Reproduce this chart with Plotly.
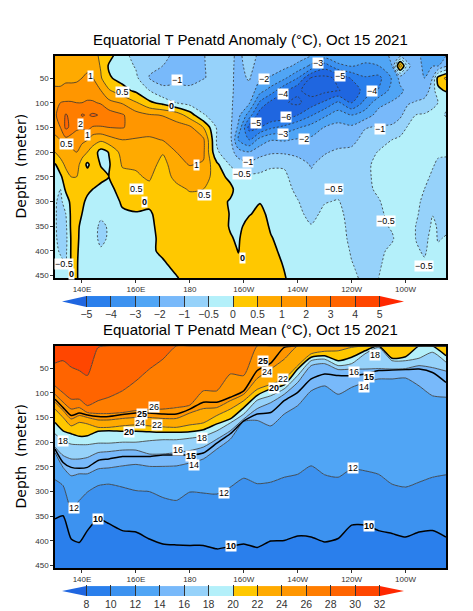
import numpy as np
import plotly.graph_objects as go

FONT = "Liberation Sans"

# ---- anomaly panel, values (one list per longitude)
anom_depths = [5, 25, 50, 75, 100, 125, 150, 175, 200, 225, 250, 275, 300, 325, 350, 375, 400, 425, 455]
anom_lons = [130, 132, 134, 136, 138, 140, 142, 144, 147, 150, 155, 160, 165, 170, 175, 180, 185, 190, 195,
             198, 202, 206, 210, 215, 220, 225, 230, 235, 240, 245, 250, 255, 258, 261, 264, 267, 270, 272, 275]
anom_by_lon = [
    [.8, .8, .9, 1.1, 1.7, 1.9, 1.3, .9, .5, -.05, -.3, -.4, -.45, -.45, -.45, -.45, -.4, -.3, -.2],
    [.8, .8, .9, 1.1, 2.0, 2.3, 2.0, 1.0, .7, .3, -.1, -.5, -.6, -.65, -.65, -.6, -.55, -.4, -.2],
    [.8, .8, .95, 1.15, 2.1, 3.1, 3.2, 1.7, .8, .6, .3, .1, -.3, -.5, -.6, -.65, -.6, -.5, -.2],
    [.85, .85, .95, 1.15, 2.1, 2.7, 2.8, 1.4, .9, .7, .5, .3, .15, .1, .1, .05, .05, .05, .05],
    [.85, .85, .95, 1.2, 2.0, 2.2, 2.2, 1.4, 1.0, .7, .5, .4, .3, .2, .1, .1, .08, .05, .05],
    [.85, .85, 1.0, 1.4, 2.0, 3.1, 2.1, 1.3, .7, .3, .3, .2, .1, .0, -.1, -.15, -.2, -.2, -.2],
    [.85, .9, 1.15, 1.6, 2.1, 2.9, 2.3, 1.05, .5, -.1, .25, .1, -.1, -.2, -.25, -.3, -.3, -.3, -.25],
    [.7, .85, 1.05, 1.5, 2.1, 3.15, 1.9, .7, .3, .2, .15, .0, -.1, -.2, -.3, -.35, -.3, -.25, -.2],
    [.4, .45, .55, 1.0, 1.9, 2.9, 1.9, .6, -.2, -.02, .1, -.1, -.25, -.4, -.6, -.6, -.45, -.3, -.2],
    [.15, -.05, .05, .55, 1.3, 2.5, 2.0, .8, .02, -.05, .0, -.1, -.2, -.3, -.45, -.45, -.35, -.25, -.2],
    [-.3, -.25, -.15, .15, .95, 2.1, 2.05, 1.0, .7, .55, .35, .15, .05, -.05, -.1, -.15, -.2, -.2, -.2],
    [-.7, -.55, -.4, -.1, .55, 1.4, 1.7, .95, .85, .55, .45, .3, .1, -.02, -.1, -.15, -.2, -.2, -.2],
    [-.85, -.95, -1.03, -.5, .1, 1.1, 1.6, .9, .85, .75, .55, .4, .05, -.03, -.05, -.05, -.05, -.05, -.15],
    [-.9, -1.0, -1.15, -.95, -.15, .98, 1.5, 1.05, .55, .3, .25, .2, .15, .1, .08, .05, .05, -.03, -.1],
    [-1.2, -1.2, -1.2, -.9, -.5, .8, 1.35, 1.2, 1.0, .85, .65, .35, .25, .2, .18, .15, .1, .08, -.02],
    [-1.2, -1.25, -1.15, -.95, -.7, .25, 1.2, 1.3, 1.25, 1.05, .75, .55, .3, .25, .2, .18, .15, .12, .1],
    [-1.05, -1.05, -1.02, -.9, -.85, -.45, .5, 1.2, 1.2, .95, .75, .5, .4, .35, .3, .28, .25, .22, .2],
    [-.8, -.85, -.95, -.95, -.9, -.75, -.55, -.55, -.45, .1, .25, .25, .2, .2, .2, .15, .2, .2, .2],
    [-.9, -.9, -.9, -.88, -.9, -.9, -.9, -.85, -.75, -.55, -.15, .15, -.05, -.02, -.03, .03, .2, .3, .35],
    [-1.2, -1.25, -1.3, -1.4, -1.5, -1.7, -2.2, -3.1, -1.6, -.7, -.35, -.25, -.2, -.15, -.1, -.05, -.02, .1, .25],
    [-.8, -.85, -.95, -1.3, -1.85, -3.5, -5.4, -4.0, -1.95, -.85, -.4, -.3, -.1, -.03, .15, .3, .35, .4, .45],
    [-1.2, -1.4, -1.9, -2.6, -4.2, -5.6, -5.0, -2.6, -1.4, -.7, -.4, -.2, -.02, .1, .2, .3, .35, .4, .45],
    [-1.2, -1.5, -2.1, -3.4, -5.3, -6.0, -4.2, -2.05, -1.15, -.55, -.4, -.3, -.15, -.1, -.05, .03, .1, .15, .2],
    [-1.3, -1.7, -2.8, -4.8, -5.9, -5.8, -3.7, -2.1, -1.15, -.55, -.42, -.35, -.3, -.25, -.2, -.15, -.1, -.03, .03],
    [-1.6, -2.2, -4.0, -5.8, -6.4, -5.0, -3.1, -1.9, -1.2, -.85, -.7, -.6, -.48, -.42, -.38, -.35, -.3, -.25, -.2],
    [-2.0, -3.2, -6.2, -7.0, -5.5, -4.1, -2.6, -1.8, -1.4, -1.05, -.95, -.85, -.7, -.6, -.48, -.42, -.38, -.35, -.3],
    [-2.6, -4.5, -6.6, -6.6, -4.8, -3.2, -1.95, -1.5, -1.05, -.9, -.75, -.6, -.52, -.42, -.38, -.35, -.33, -.3, -.3],
    [-2.4, -3.2, -5.8, -6.1, -3.8, -2.5, -1.7, -1.25, -.95, -.8, -.7, -.6, -.48, -.42, -.38, -.35, -.33, -.3, -.3],
    [-2.3, -2.9, -4.9, -5.7, -5.0, -3.0, -1.8, -1.25, -.9, -.8, -.7, -.68, -.65, -.62, -.6, -.58, -.53, -.49, -.45],
    [-2.5, -3.2, -4.1, -4.6, -3.7, -2.5, -1.05, -.85, -.65, -.58, -.6, -.6, -.62, -.65, -.65, -.65, -.65, -.6, -.55],
    [-2.6, -3.0, -4.3, -3.95, -2.3, -1.65, -.95, -.65, -.48, -.4, -.38, -.43, -.53, -.6, -.62, -.62, -.6, -.55, -.5],
    [-1.8, -2.0, -2.9, -2.6, -1.9, -1.3, -.95, -.5, -.38, -.35, -.32, -.3, -.32, -.35, -.45, -.55, -.4, -.35, -.3],
    [-1.3, .8, -1.7, -2.2, -1.7, -1.2, -.7, -.42, -.3, -.3, -.3, -.3, -.3, -.3, -.3, -.3, -.3, -.3, -.3],
    [-1.5, -.9, -1.5, -1.7, -1.1, -.7, -.45, -.3, -.3, -.3, -.3, -.3, -.3, -.3, -.3, -.3, -.3, -.3, -.3],
    [-1.8, -1.6, -1.85, -1.6, -.95, -.48, -.35, -.3, -.3, -.3, -.3, -.35, -.4, -.45, -.52, -.52, -.45, -.4, -.35],
    [-2.2, -2.2, -2.0, -1.5, -.85, -.45, -.3, -.3, -.35, -.38, -.42, -.5, -.6, -.65, -.65, -.6, -.55, -.45, -.35],
    [-2.4, -2.05, -1.0, -.8, -.6, -.4, -.3, -.3, -.4, -.47, -.55, -.6, -.55, -.51, -.45, -.38, -.35, -.33, -.3],
    [-2.3, -2.1, .15, -.1, -.5, -.42, -.3, -.3, -.45, -.55, -.6, -.6, -.6, -.55, -.52, -.52, -.45, -.35, -.3],
    [-2.0, -1.2, .6, .05, -.45, -.52, -.35, -.3, -.45, -.58, -.6, -.62, -.62, -.6, -.55, -.48, -.4, -.35, -.3],
]

# (lon, depth, text) of the white contour labels
anom_labels = [
    (143.2, 45, "1"), (155.2, 79, "0.5"), (175.3, 53, "−1"), (173.2, 106, "<b>0</b>"), (139.3, 143, "2"),
    (142.2, 166, "1"), (134.1, 183, "0.5"), (182.5, 227, "1"), (160.2, 274, "0.5"), (163.3, 300, "<b>0</b>"),
    (185.4, 286, "0.5"), (133.5, 427, "−0.5"), (136, 447, "<b>0</b>"), (227.5, 20, "−3"), (235.8, 45, "−5"),
    (207.5, 51, "−2"), (214.4, 83, "−4"), (247.6, 77, "−4"), (215.5, 128, "−6"), (204.5, 141, "−5"),
    (214.4, 163, "−3"), (222.4, 174, "−2"), (250.7, 153, "−1"), (201.6, 219, "−1"), (199.4, 245, "−0.5"),
    (233.6, 275, "−0.5"), (252.8, 339, "−0.5"), (266.8, 430, "−0.5"), (199.4, 415, "<b>0</b>"),
]

# ---- mean panel: depth (m) of each isotherm at each longitude
mean_lons = [130, 133, 136, 139, 142, 146, 150, 155, 160, 165, 170, 175, 180, 185, 190, 195,
             200, 205, 210, 215, 220, 225, 230, 235, 240, 245, 250, 255, 260, 265, 270, 275]
d10 = [355, 349, 396, 403, 379, 355, 365, 379, 382, 396, 406, 408, 409, 409, 416, 411,
       406, 413, 400, 399, 390, 392, 402, 395, 368, 368, 379, 385, 392, 382, 379, 392]
d12 = [276, 288, 335, 318, 301, 288, 285, 291, 298, 300, 312, 318, 301, 303, 305, 291,
       273, 284, 281, 271, 265, 248, 266, 271, 254, 258, 265, 285, 291, 281, 271, 266]
d14 = [221, 251, 268, 264, 264, 254, 252, 248, 245, 249, 249, 248, 242, 234, 214, 194,
       158, 156, 167, 143, 126, 96, 86, 103, 89, 79, 72, 72, 70, 86, 106, 109]
d15 = [214, 241, 251, 253, 251, 237, 234, 229, 229, 229, 226, 226, 226, 222, 202, 183,
       157, 143, 140, 116, 99, 72, 62, 65, 65, 62, 55, 54, 53, 52, 59, 79]
d16 = [210, 227, 234, 234, 231, 221, 219, 216, 216, 224, 224, 221, 217, 210, 194, 177,
       153, 132, 120, 103, 79, 45, 41, 53, 52, 52, 51, 52, 51, 45, 49, 56]
d18 = [183, 197, 204, 205, 205, 202, 202, 200, 200, 197, 195, 195, 192, 188, 177, 161,
       143, 115, 106, 92, 65, 35, 32, 45, 41, 21, 8, 35, 35, 30, 18, 38]
d20 = [160, 177, 183, 188, 187, 178, 177, 178, 178, 179, 180, 180, 179, 175, 163, 153,
       130, 105, 92, 84, 52, 28, 25, 35, 28, 15, 5, 30, 27, 5, 5, 25]
d22 = [133, 150, 167, 160, 163, 170, 170, 167, 165, 167, 169, 170, 165, 161, 146, 133,
       116, 93, 83, 72, 45, 21, 16, 15, 8, 5, 5, 5, 5, 5, 5, 5]
d24 = [119, 136, 153, 146, 150, 155, 155, 152, 150, 150, 152, 152, 141, 132, 130, 116,
       103, 71, 52, 32, 5, 5, 5, 5, 5, 5, 5, 5, 5, 5, 5, 5]
d25 = [113, 130, 146, 141, 145, 148, 148, 144, 141, 141, 143, 143, 133, 119, 119, 109,
       96, 55, 40, 8, 5, 5, 5, 5, 5, 5, 5, 5, 5, 5, 5, 5]
d26 = [103, 119, 133, 130, 140, 142, 142, 140, 136, 134, 133, 130, 125, 96, 96, 62,
       65, 5, 5, 5, 5, 5, 5, 5, 5, 5, 5, 5, 5, 5, 5, 5]
d28 = [86, 100, 113, 113, 126, 116, 109, 96, 76, 52, 32, 5, 5, 5, 5, 5,
       5, 5, 5, 5, 5, 5, 5, 5, 5, 5, 5, 5, 5, 5, 5, 5]
d30 = [40, 35, 48, 55, 65, 8, 5, 5, 5, 5, 5, 5, 5, 5, 5, 5,
       5, 5, 5, 5, 5, 5, 5, 5, 5, 5, 5, 5, 5, 5, 5, 5]
surface = [5] * len(mean_lons)
bottom = [455] * len(mean_lons)

mean_labels = [
    (166.8, 128, "26"), (161.5, 161, "24"), (162.3, 142, "<b>25</b>"), (168, 166, "22"),
    (157.3, 179, "<b>20</b>"), (133.1, 197, "18"), (184.4, 192, "18"), (175.5, 216, "16"),
    (181.4, 247, "14"), (180.4, 227, "<b>15</b>"), (137.2, 333, "12"), (192.5, 303, "12"),
    (146.1, 355, "<b>10</b>"), (195.3, 411, "<b>10</b>"), (207.2, 36, "<b>25</b>"), (208.5, 57, "24"),
    (214.4, 73, "22"), (211.3, 90, "<b>20</b>"), (241, 58, "16"), (248.8, 23, "18"),
    (244.7, 88, "14"), (246.5, 68, "<b>15</b>"), (240.5, 252, "12"), (246.6, 370, "<b>10</b>"),
]

# ---- colours and tick labels
band_colors = ["#2a7fec", "#3c92f0", "#50a5f5", "#78b9fa", "#96d2fa", "#b4f0fa",
               "#ffc800", "#ffaa00", "#ff9600", "#ff7d00", "#ff6400", "#ff4600"]
low_color = "#1f66e0"
high_color = "#ff2800"

anom_levels = [-8, -6, -5, -4, -3, -2, -1, -0.5, 0, 0.5, 1, 2, 3, 4, 5, 6]
anom_ticktext = ["−5", "−4", "−3", "−2", "−1", "−0.5", "0", "0.5", "1", "2", "3", "4", "5"]
mean_ticktext = ["8", "10", "12", "14", "16", "18", "20", "22", "24", "26", "28", "30", "32"]
lon_ticks = [140, 160, 180, 200, 220, 240, 260]
lon_text = ["140E", "160E", "180", "160W", "140W", "120W", "100W"]
depth_ticks = [50, 100, 150, 200, 250, 300, 350, 400, 450]

W, H = 473, 611


def dom_x(a, b):
    return [a / W, b / W]


def dom_y(top, bot):
    return [1 - bot / H, 1 - top / H]


fig = go.Figure()

# anomaly: contour in level-index space because the levels are not evenly spaced
z_idx = np.interp(np.array(anom_by_lon).T, anom_levels, np.arange(len(anom_levels)))
idx_colors = [low_color, low_color] + band_colors + [high_color]
scale = []
for i, c in enumerate(idx_colors):
    scale.append([i / len(idx_colors), c])
    scale.append([(i + 1) / len(idx_colors), c])

fig.add_trace(go.Contour(x=anom_lons, y=anom_depths, z=z_idx, zmin=0, zmax=15, colorscale=scale,
                         autocontour=False, showscale=False, hoverinfo="skip",
                         contours=dict(start=1, end=14, size=1, coloring="fill", showlines=False),
                         line=dict(width=0, smoothing=0.8), xaxis="x", yaxis="y"))
line_sets = [(1, 7, "2px,2px", 0.8, "#333333"), (9, 14, "solid", 0.8, "#333333"), (8, 8, "solid", 1.6, "black")]
for start, end, dash, width, color in line_sets:
    fig.add_trace(go.Contour(x=anom_lons, y=anom_depths, z=z_idx, autocontour=False, showscale=False,
                             hoverinfo="skip", contours=dict(start=start, end=end, size=1, coloring="none"),
                             line=dict(width=width, dash=dash, color=color, smoothing=0.8),
                             xaxis="x", yaxis="y"))

# mean: fill between neighbouring isotherms, deepest first
isotherms = [(bottom, band_colors[0], 0), (d10, band_colors[0], 1.5), (d12, band_colors[1], 0.8),
             (d14, band_colors[2], 0.8), (d15, band_colors[3], 1.5), (d16, band_colors[3], 0.8),
             (d18, band_colors[4], 0.8), (d20, band_colors[5], 1.5), (d22, band_colors[6], 0.8),
             (d24, band_colors[7], 0.8), (d25, band_colors[8], 1.5), (d26, band_colors[8], 0.8),
             (d28, band_colors[9], 0.8), (d30, band_colors[10], 0.8), (surface, band_colors[11], 0)]
for i, (depth, color, width) in enumerate(isotherms):
    fig.add_trace(go.Scatter(x=mean_lons, y=depth, mode="lines", hoverinfo="skip", showlegend=False,
                             fill="tonexty" if i else None, fillcolor=color,
                             line=dict(color="black" if width > 1 else "#333333", width=width,
                                       shape="spline", smoothing=0.6),
                             xaxis="x2", yaxis="y2"))

# colour bars as small stacked bars with arrow ends
for xa, ya in [("x3", "y3"), ("x4", "y4")]:
    fig.add_trace(go.Bar(x=[1] * 12, base=list(range(12)), y=[0] * 12, orientation="h", width=1,
                         marker=dict(color=band_colors, line_width=0), hoverinfo="skip",
                         showlegend=False, xaxis=xa, yaxis=ya))
    fig.add_trace(go.Scatter(x=[-1, 0, 0, -1], y=[0, 0.5, -0.5, 0], mode="lines", fill="toself",
                             fillcolor=low_color, line=dict(width=0), hoverinfo="skip",
                             showlegend=False, xaxis=xa, yaxis=ya))
    fig.add_trace(go.Scatter(x=[13, 12, 12, 13], y=[0, 0.5, -0.5, 0], mode="lines", fill="toself",
                             fillcolor=high_color, line=dict(width=0), hoverinfo="skip",
                             showlegend=False, xaxis=xa, yaxis=ya))

annotations = []
for labels, xr, yr in [(anom_labels, "x", "y"), (mean_labels, "x2", "y2")]:
    for lon, depth, text in labels:
        annotations.append(dict(x=lon, y=depth, xref=xr, yref=yr, text=text, showarrow=False,
                                bgcolor="white", borderpad=0, font=dict(family=FONT, size=9, color="black")))
for text, py in [("Equatorial T Penatd Anomaly (°C), Oct 15 2021", 40),
                 ("Equatorial T Penatd Mean (°C), Oct 15 2021", 331)]:
    annotations.append(dict(x=250 / W, y=1 - py / H, xref="paper", yref="paper", text=text, showarrow=False,
                            xanchor="center", yanchor="middle",
                            font=dict(family=FONT, size=15, color="black")))
for py in [167, 458]:
    annotations.append(dict(x=21 / W, y=1 - py / H, xref="paper", yref="paper", text="Depth  (meter)",
                            textangle=-90, showarrow=False, xanchor="center", yanchor="middle",
                            font=dict(family="DejaVu Sans", size=14, color="black")))

main_x = dict(range=[130, 275], domain=dom_x(55, 446), tickvals=lon_ticks, ticktext=lon_text, ticks="outside",
              ticklen=3, tickcolor="#333333", tickfont=dict(family=FONT, size=8, color="#333333"),
              showgrid=False, zeroline=False, showline=True, linecolor="black", linewidth=1.5, mirror=True)
main_y = dict(range=[455, 5], tickvals=depth_ticks, ticks="outside", ticklen=3, tickcolor="#333333",
              tickfont=dict(family=FONT, size=8, color="#333333"), showgrid=False, zeroline=False,
              showline=True, linecolor="black", linewidth=1.5, mirror=True)


def bar_x(ticktext):
    return dict(range=[-1, 13], domain=dom_x(62, 404), tickvals=list(range(13)), ticktext=ticktext,
                ticks="inside", ticklen=11, tickwidth=1, tickcolor="#333333", showgrid=False, zeroline=False,
                showline=False, tickfont=dict(family=FONT, size=10.5, color="#333333"))


bar_y = dict(range=[-0.5, 0.5], visible=False, fixedrange=True)

fig.update_layout(
    width=W, height=H, autosize=False, margin=dict(l=0, r=0, t=0, b=0), paper_bgcolor="white",
    plot_bgcolor="white", showlegend=False, barmode="overlay", annotations=annotations,
    xaxis=dict(main_x, anchor="y"), yaxis=dict(main_y, domain=dom_y(56, 279), anchor="x"),
    xaxis2=dict(main_x, anchor="y2"), yaxis2=dict(main_y, domain=dom_y(347, 570), anchor="x2"),
    xaxis3=dict(bar_x(anom_ticktext), anchor="y3"), yaxis3=dict(bar_y, domain=dom_y(297, 308), anchor="x3"),
    xaxis4=dict(bar_x(mean_ticktext), anchor="y4"), yaxis4=dict(bar_y, domain=dom_y(588, 598), anchor="x4"),
)

fig.write_html("out.html", config={"displayModeBar": False}, post_script="document.body.style.margin='0';")
